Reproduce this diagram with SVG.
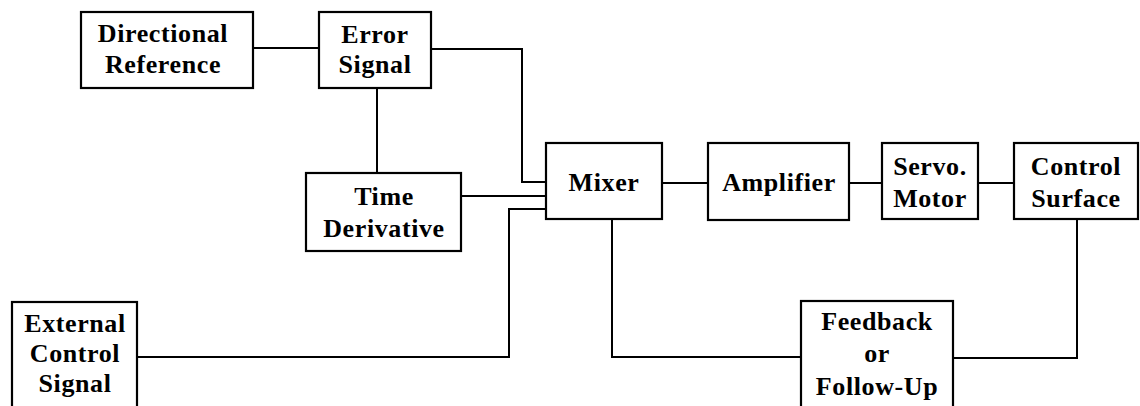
<svg xmlns="http://www.w3.org/2000/svg" width="1140" height="406" viewBox="0 0 1140 406">
<style>
.box{fill:#fff;stroke:#000;stroke-width:2.2}
.ln{fill:none;stroke:#000;stroke-width:2}
text{font-family:"Liberation Serif","Times New Roman",serif;font-weight:bold;font-size:26px;letter-spacing:0.6px;text-anchor:middle;fill:#000}
</style>
<rect width="1140" height="406" fill="#fff"/>
<g id="connectors">
<path class="ln" d="M253,48 H319"/>
<path class="ln" d="M431,49 H522 V182 H546"/>
<path class="ln" d="M377,88 V173"/>
<path class="ln" d="M461,196 H546"/>
<path class="ln" d="M137,357 H509 V209 H546"/>
<path class="ln" d="M662,183 H708"/>
<path class="ln" d="M849,183 H882"/>
<path class="ln" d="M978,183 H1014"/>
<path class="ln" d="M1077,219 V358 H953"/>
<path class="ln" d="M801,357 H612 V219"/>
</g>
<g id="directional-reference">
<rect class="box" x="81" y="12" width="172" height="76"/>
<text x="163" y="42">Directional</text>
<text x="163" y="73">Reference</text>
</g>
<g id="error-signal">
<rect class="box" x="319" y="12" width="112" height="76"/>
<text x="375" y="43">Error</text>
<text x="375" y="73">Signal</text>
</g>
<g id="time-derivative">
<rect class="box" x="306" y="173" width="155" height="78"/>
<text x="384" y="205">Time</text>
<text x="384" y="237">Derivative</text>
</g>
<g id="mixer">
<rect class="box" x="546" y="143" width="116" height="76"/>
<text x="604" y="191">Mixer</text>
</g>
<g id="amplifier">
<rect class="box" x="708" y="143" width="141" height="77"/>
<text x="779" y="191">Amplifier</text>
</g>
<g id="servo-motor">
<rect class="box" x="882" y="143" width="96" height="76"/>
<text x="930" y="175">Servo.</text>
<text x="930" y="207">Motor</text>
</g>
<g id="control-surface">
<rect class="box" x="1014" y="143" width="124" height="76"/>
<text x="1076" y="175">Control</text>
<text x="1076" y="207">Surface</text>
</g>
<g id="external-control-signal">
<rect class="box" x="12" y="302" width="125" height="110"/>
<text x="75" y="332">External</text>
<text x="75" y="362">Control</text>
<text x="75" y="392">Signal</text>
</g>
<g id="feedback">
<rect class="box" x="801" y="301" width="152" height="111"/>
<text x="877" y="330">Feedback</text>
<text x="877" y="362">or</text>
<text x="877" y="395">Follow-Up</text>
</g>
</svg>
